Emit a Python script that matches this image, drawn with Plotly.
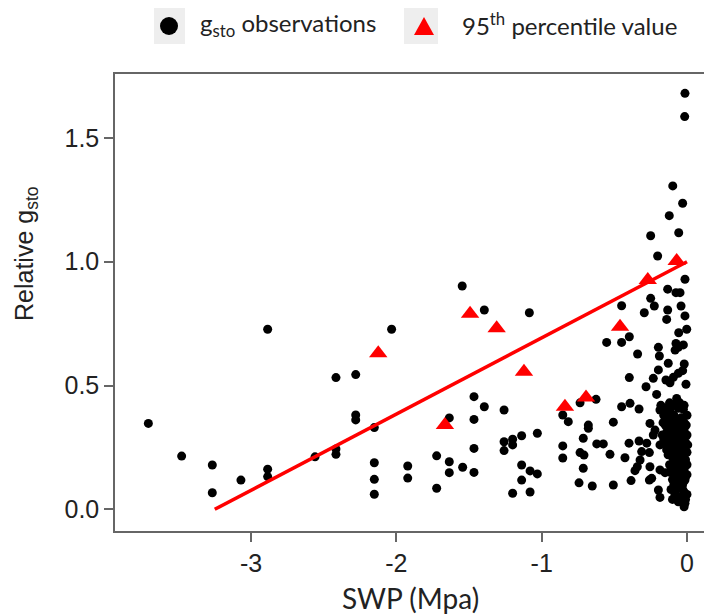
import plotly.graph_objects as go

# ---------------- data ----------------
obs_x = [-3.707, -3.478, -3.267, -3.267, -3.07, -2.886, -2.886, -2.886, -2.56, -2.416, -2.416, -2.416,
         -2.28, -2.28, -2.28, -2.152, -2.152, -2.152, -2.152, -2.033, -1.922, -1.922, -1.723, -1.723,
         -1.636, -1.636, -1.636, -1.547, -1.544, -1.466, -1.466, -1.466, -1.466, -1.395, -1.395,
         -1.259, -1.259, -1.259, -1.2, -1.2, -1.2, -1.138, -1.138, -1.138, -1.085, -1.08, -1.08,
         -1.03, -1.03, -0.855, -0.855, -0.855, -0.817,
         -0.736, -0.679, -0.679, -0.714, -0.621, -0.576, -0.736, -0.709, -0.714, -0.743, -0.652,
         -0.626, -0.553, -0.53, -0.507, -0.507, -0.45, -0.45, -0.45, -0.427, -0.397, -0.397, -0.392,
         -0.399, -0.385, -0.34, -0.33, -0.33, -0.312, -0.323, -0.342, -0.358, -0.294, -0.282, -0.277,
         -0.259, -0.255, -0.255, -0.243, -0.259, -0.25, -0.25, -0.232, -0.232, -0.225, -0.22, -0.209,
         -0.202, -0.197, -0.197, -0.197, -0.19, -0.186, -0.186, -0.186, -0.186, -0.151, -0.145, -0.14,
         -0.133, -0.133, -0.129, -0.122, -0.117, -0.117, -0.117, -0.098, -0.094, -0.083, -0.082,
         -0.076, -0.076, -0.071, -0.06, -0.06, -0.06, -0.06, -0.057, -0.057, -0.048, -0.041, -0.03,
         -0.03, -0.025, -0.025, -0.019, -0.016, -0.014, -0.014, -0.014, -0.014, -0.014, -0.007, -0.002,
         -0.16, -0.15, -0.13, -0.11, -0.09, -0.07, -0.04, -0.02, 0.0,
         -0.17, -0.14, -0.12, -0.1, -0.08, -0.06, -0.04, -0.02, 0.0,
         -0.15, -0.12, -0.1, -0.08, -0.05, -0.03, -0.01,
         -0.13, -0.1, -0.07, -0.05, -0.03, -0.01, 0.0,
         -0.12, -0.09, -0.07, -0.04, -0.02, 0.0,
         -0.1, -0.08, -0.05, -0.03, -0.01,
         -0.11, -0.08, -0.04, -0.02, -0.03, -0.01,
         -0.18, -0.15, -0.12, -0.09, -0.05, -0.02,
         -0.165, -0.135, -0.1, -0.075, -0.05, -0.035, -0.005,
         -0.16, -0.13, -0.09, -0.065, -0.045, -0.02, 0.005,
         -0.14, -0.11, -0.09, -0.06, -0.04, -0.015,
         -0.12, -0.1, -0.06, -0.04, -0.02, 0.0,
         -0.09, -0.06, -0.03, -0.1, -0.06, -0.02, 0.0]
obs_y = [0.347, 0.215, 0.179, 0.067, 0.118, 0.727, 0.162, 0.132, 0.212, 0.532, 0.244, 0.222,
         0.544, 0.381, 0.361, 0.33, 0.188, 0.121, 0.061, 0.727, 0.175, 0.126, 0.216, 0.085,
         0.369, 0.192, 0.148, 0.902, 0.17, 0.455, 0.363, 0.246, 0.149, 0.805, 0.414,
         0.401, 0.273, 0.237, 0.283, 0.26, 0.065, 0.297, 0.179, 0.118, 0.794, 0.155, 0.07,
         0.307, 0.143, 0.381, 0.256, 0.207, 0.354,
         0.43, 0.34, 0.327, 0.287, 0.264, 0.264, 0.229, 0.219, 0.166, 0.107, 0.094,
         0.444, 0.674, 0.222, 0.352, 0.098, 0.822, 0.674, 0.414, 0.208, 0.697, 0.532, 0.428,
         0.267, 0.116, 0.627, 0.405, 0.276, 0.233, 0.199, 0.172, 0.156, 0.794, 0.495, 0.267,
         0.229, 0.347, 0.172, 0.125, 0.118, 1.105, 0.852, 0.529, 0.3, 0.821, 0.32, 0.464,
         1.023, 0.654, 0.563, 0.078, 0.619, 0.401, 0.26, 0.159, 0.048, 0.148, 0.522, 0.767,
         0.889, 0.805, 0.59, 1.186, 0.511, 0.401, 0.152, 1.306, 0.533, 0.058, 0.643,
         0.875, 0.67, 0.448, 0.654, 0.549, 0.408, 0.085, 1.117, 0.713, 0.875, 0.821, 1.236,
         0.56, 0.664, 0.404, 0.587, 1.586, 1.68, 0.929, 0.781, 0.118, 0.024, 0.505, 0.727,
         0.38, 0.34, 0.37, 0.35, 0.38, 0.36, 0.37, 0.35, 0.38,
         0.3, 0.31, 0.29, 0.32, 0.3, 0.31, 0.3, 0.32, 0.3,
         0.26, 0.25, 0.27, 0.24, 0.26, 0.25, 0.27,
         0.22, 0.21, 0.22, 0.2, 0.22, 0.2, 0.23,
         0.18, 0.17, 0.18, 0.17, 0.16, 0.18,
         0.12, 0.13, 0.12, 0.1, 0.13,
         0.08, 0.06, 0.05, 0.07, 0.03, 0.04,
         0.42, 0.41, 0.43, 0.42, 0.43, 0.42,
         0.35, 0.33, 0.36, 0.34, 0.35, 0.33, 0.34,
         0.28, 0.27, 0.28, 0.27, 0.28, 0.29, 0.26,
         0.24, 0.23, 0.2, 0.23, 0.24, 0.23,
         0.15, 0.16, 0.15, 0.14, 0.12, 0.14,
         0.1, 0.09, 0.08, 0.04, 0.03, 0.01, 0.06]

p95_x = [-2.125, -1.666, -1.493, -1.31, -1.122, -0.84, -0.695, -0.461, -0.27, -0.071]
p95_y = [0.63, 0.34, 0.79, 0.731, 0.556, 0.414, 0.452, 0.737, 0.926, 1.003]

fit_x = [-3.25, 0.0]
fit_y = [0.0, 1.0]

x_ticks = [-3, -2, -1, 0]
y_ticks = [0.0, 0.5, 1.0, 1.5]
y_tick_text = ["0.0", "0.5", "1.0", "1.5"]

# ---------------- layout helpers ----------------
W, H = 704, 616
L, R, T, B = 115, 0, 74, 85
PW, PH = W - L - R, H - T - B


def px(xp):
    return (xp - L) / PW


def py(yp):
    return (H - B - yp) / PH


fig = go.Figure()

fig.add_trace(go.Scatter(x=obs_x, y=obs_y, mode="markers",
                         marker=dict(color="black", size=9, line=dict(width=0)),
                         showlegend=False, hoverinfo="skip"))
fig.add_trace(go.Scatter(x=fit_x, y=fit_y, mode="lines",
                         line=dict(color="#ff0000", width=3.5),
                         showlegend=False, hoverinfo="skip"))
fig.add_trace(go.Scatter(x=p95_x, y=p95_y, mode="markers",
                         marker=dict(color="#ff0000", size=16, symbol="triangle-up", line=dict(width=0)),
                         showlegend=False, hoverinfo="skip"))

axis_col = "#666666"
arial = "Liberation Sans"
tick_font = dict(family=arial, size=25, color="#222222")

fig.update_xaxes(range=[(L - 687) / 145.3, (W - 687) / 145.3], tickvals=x_ticks,
                 ticktext=[str(v) for v in x_ticks],
                 showgrid=False, zeroline=False, showline=True, linecolor=axis_col, linewidth=1.5,
                 mirror=True, ticks="outside", ticklen=9, tickwidth=1.5, tickcolor=axis_col,
                 tickfont=tick_font)
fig.update_yaxes(range=[(509.3 - (H - B)) / 247.6, (509.3 - T) / 247.6], tickvals=y_ticks,
                 ticktext=y_tick_text,
                 showgrid=False, zeroline=False, showline=True, linecolor=axis_col, linewidth=1.5,
                 mirror=False, ticks="outside", ticklen=9, tickwidth=1.5, tickcolor=axis_col,
                 tickfont=tick_font)

calibri = "Lato"
annotations = [
    dict(text="SWP (Mpa)", x=px(410), y=py(598), xref="paper", yref="paper",
         showarrow=False, font=dict(family=calibri, size=28, color="#222222"),
         xanchor="center", yanchor="middle"),
    dict(text="Relative g<sub>sto</sub>", x=px(26), y=py(254), xref="paper", yref="paper",
         showarrow=False, textangle=-90, font=dict(family=arial, size=25, color="#222222"),
         xanchor="center", yanchor="middle"),
    dict(text="g<sub>sto</sub> observations", x=px(198), y=py(24), xref="paper", yref="paper",
         showarrow=False, font=dict(family=calibri, size=24, color="#222222"),
         xanchor="left", yanchor="middle"),
    dict(text="95<sup>th</sup> percentile value", x=px(460), y=py(24), xref="paper", yref="paper",
         showarrow=False, font=dict(family=calibri, size=24, color="#222222"),
         xanchor="left", yanchor="middle"),
]

shapes = [
    dict(type="rect", xref="paper", yref="paper", x0=px(154), x1=px(185), y0=py(8), y1=py(44),
         fillcolor="#eeeeee", line=dict(width=0), layer="below"),
    dict(type="rect", xref="paper", yref="paper", x0=px(404), x1=px(438), y0=py(8), y1=py(44),
         fillcolor="#eeeeee", line=dict(width=0), layer="below"),
    dict(type="circle", xref="paper", yref="paper", x0=px(160), x1=px(178), y0=py(17), y1=py(35),
         fillcolor="black", line=dict(width=0)),
    dict(type="path", xref="paper", yref="paper",
         path=f"M {px(424)} {py(17)} L {px(434)} {py(35)} L {px(414)} {py(35)} Z",
         fillcolor="#ff0000", line=dict(width=0)),
]

fig.update_layout(width=W, height=H, margin=dict(l=L, r=R, t=T, b=B),
                  paper_bgcolor="white", plot_bgcolor="white",
                  annotations=annotations, shapes=shapes, showlegend=False)

fig.write_html("out.html")
